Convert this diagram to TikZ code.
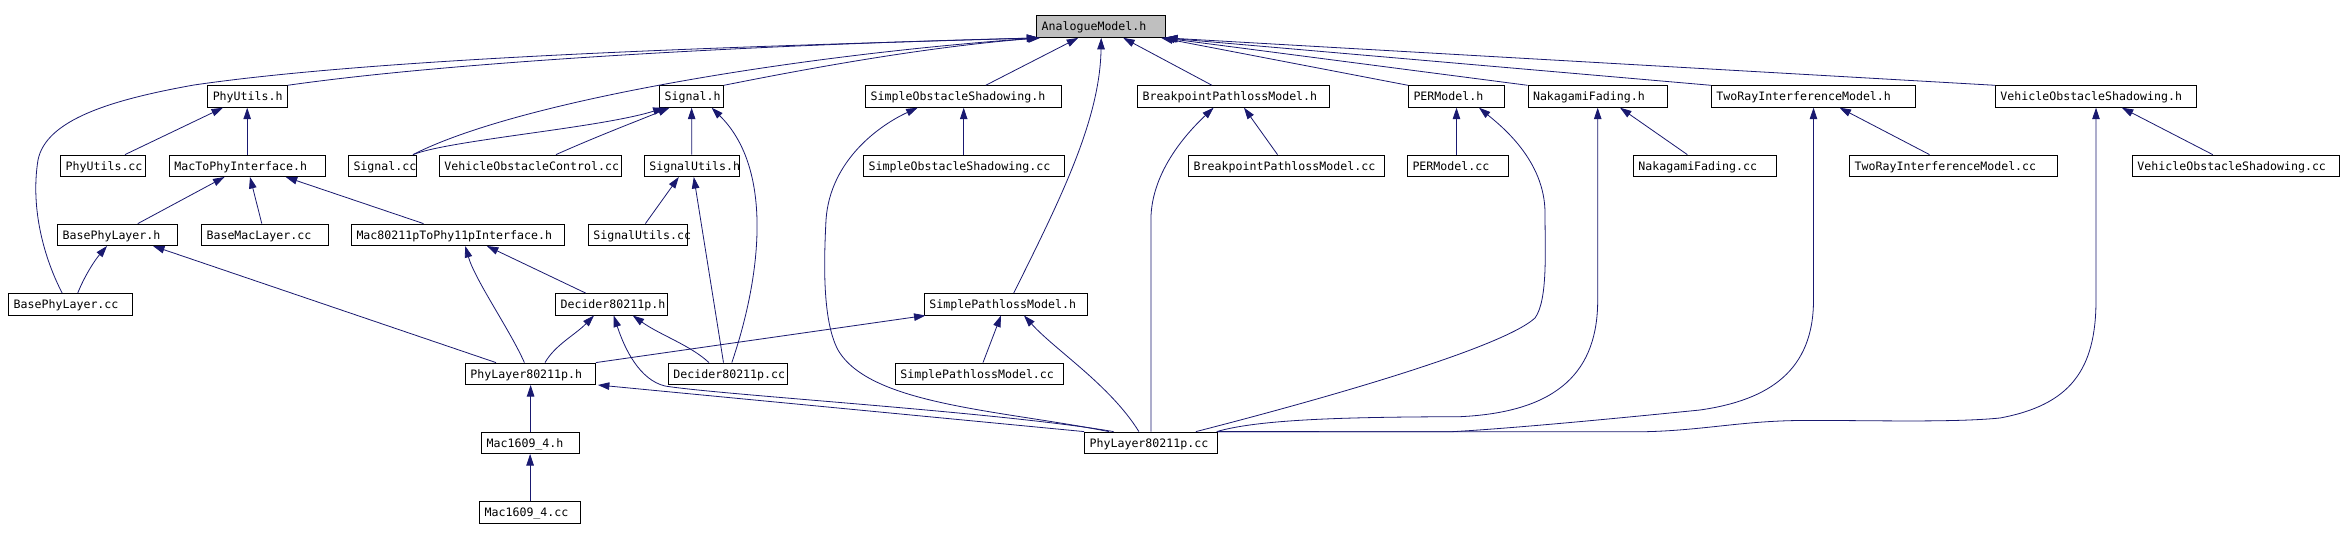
\documentclass[tikz,border=0pt]{standalone}
\usepackage{fontspec}
\newfontfamily\dxfont{DejaVu Sans Mono}
\usetikzlibrary{arrows.meta,calc}
\definecolor{edgeblue}{HTML}{191970}
\definecolor{rootgray}{HTML}{BFBFBF}
\newcommand{\dxbox}[2]{\makebox[#1][l]{\hspace{5pt}#2}}
\begin{document}
\begin{tikzpicture}[x=1pt,y=-1pt,
  file/.style={draw=black,line width=0.9pt,fill=white,minimum height=21.5pt,inner sep=0pt,
    text height=8.5pt,text depth=0pt,font=\dxfont\fontsize{11.6pt}{13pt}\selectfont},
  root/.style={file,fill=rootgray},
  dep/.style={draw=edgeblue,line width=0.8pt,-{Triangle[length=11.5pt,width=7.5pt,fill=edgeblue]}}]
\useasboundingbox[fill=white] (0,0) rectangle (2343,540);
% row 0
\node[root] (AM) at (1101.2,26.7) {\dxbox{129.1pt}{AnalogueModel.h}};
% row 1
\node[file] (PUh) at (247.5,96.5) {\dxbox{79.5pt}{PhyUtils.h}};
\node[file] (Sh) at (691.6,96.5) {\dxbox{63.8pt}{Signal.h}};
\node[file] (SOSh) at (963.7,96.5) {\dxbox{196pt}{SimpleObstacleShadowing.h}};
\node[file] (BPMh) at (1233.6,96.5) {\dxbox{192pt}{BreakpointPathlossModel.h}};
\node[file] (PERh) at (1456.5,96.5) {\dxbox{96pt}{PERModel.h}};
\node[file] (NFh) at (1597.7,96.5) {\dxbox{139.4pt}{NakagamiFading.h}};
\node[file] (TRh) at (1813.5,96.5) {\dxbox{204.3pt}{TwoRayInterferenceModel.h}};
\node[file] (VOSh) at (2096,96.5) {\dxbox{201.2pt}{VehicleObstacleShadowing.h}};
% row 2
\node[file] (PUcc) at (103,165.8) {\dxbox{84.7pt}{PhyUtils.cc}};
\node[file] (MTPh) at (247.2,165.8) {\dxbox{155.6pt}{MacToPhyInterface.h}};
\node[file] (Scc) at (382.4,165.8) {\dxbox{67.8pt}{Signal.cc}};
\node[file] (VOCcc) at (530.4,165.8) {\dxbox{182pt}{VehicleObstacleControl.cc}};
\node[file] (SUh) at (691.8,165.8) {\dxbox{95pt}{SignalUtils.h}};
\node[file] (SOScc) at (964.2,165.8) {\dxbox{201pt}{SimpleObstacleShadowing.cc}};
\node[file] (BPMcc) at (1286.7,165.8) {\dxbox{196pt}{BreakpointPathlossModel.cc}};
\node[file] (PERcc) at (1458,165.8) {\dxbox{101pt}{PERModel.cc}};
\node[file] (NFcc) at (1705,165.8) {\dxbox{143.3pt}{NakagamiFading.cc}};
\node[file] (TRcc) at (1953.5,165.8) {\dxbox{207.8pt}{TwoRayInterferenceModel.cc}};
\node[file] (VOScc) at (2236,165.8) {\dxbox{207.2pt}{VehicleObstacleShadowing.cc}};
% row 3
\node[file] (BPLh) at (117.3,234.8) {\dxbox{119.3pt}{BasePhyLayer.h}};
\node[file] (BMLcc) at (264.8,234.8) {\dxbox{126.5pt}{BaseMacLayer.cc}};
\node[file] (M11h) at (457.9,234.8) {\dxbox{212.8pt}{Mac80211pToPhy11pInterface.h}};
\node[file] (SUcc) at (637.8,234.8) {\dxbox{99pt}{SignalUtils.cc}};
% row 4
\node[file] (BPLcc) at (70.7,304.3) {\dxbox{124pt}{BasePhyLayer.cc}};
\node[file] (D11h) at (611.7,304.3) {\dxbox{112.3pt}{Decider80211p.h}};
\node[file] (SPMh) at (1006,304.3) {\dxbox{163.3pt}{SimplePathlossModel.h}};
% row 5
\node[file] (PL11h) at (530.4,373.8) {\dxbox{130pt}{PhyLayer80211p.h}};
\node[file] (D11cc) at (727.8,373.8) {\dxbox{118.8pt}{Decider80211p.cc}};
\node[file] (SPMcc) at (979.5,373.8) {\dxbox{168.4pt}{SimplePathlossModel.cc}};
% row 6
\node[file] (M16h) at (530.6,442.8) {\dxbox{98pt}{Mac1609\_4.h}};
\node[file] (PL11cc) at (1150.9,442.8) {\dxbox{132.6pt}{PhyLayer80211p.cc}};
% row 7
\node[file] (M16cc) at (530.1,512.3) {\dxbox{101pt}{Mac1609\_4.cc}};

% ---- edges to AnalogueModel.h
\draw[dep] (PUh.north east) .. controls (450,62) and (750,45) .. ([xshift=2pt]AM.south west);
\draw[dep] ([xshift=-8.5pt]BPLcc.north) .. controls (45,260) and (30,210) .. (38,160)
   .. controls (46,120) and (110,100) .. (194,85) .. controls (400,55) and (800,45) .. ([xshift=2pt]AM.south west);
\draw[dep] ([xshift=30.6pt]Scc.north) .. controls (520,100) and (800,55) .. ([xshift=3pt]AM.south west);
\draw[dep] (Sh.north east) .. controls (850,60) and (950,45) .. ([xshift=4pt]AM.south west);
\draw[dep] ([xshift=22pt]SOSh.north) -- ([xshift=-23pt]AM.south);
\draw[dep] ([xshift=7.7pt]SPMh.north) .. controls (1060,200) and (1100,120) .. (AM.south);
\draw[dep] ([xshift=-21.6pt]BPMh.north) -- ([xshift=22pt]AM.south);
\draw[dep] (PERh.north west) -- ([xshift=-5pt]AM.south east);
\draw[dep] (NFh.north west) -- ([xshift=-3pt]AM.south east);
\draw[dep] (TRh.north west) -- ([xshift=-1pt]AM.south east);
\draw[dep] (VOSh.north west) -- (AM.south east);
% ---- PhyUtils.h
\draw[dep] ([xshift=22pt]PUcc.north) -- ([xshift=-24.5pt]PUh.south);
\draw[dep] (MTPh.north) -- (MTPh.north |- PUh.south);
% ---- Signal.h
\draw[dep] ([xshift=30.6pt]Scc.north) .. controls (450,140) and (600,128) .. ([xshift=-27pt]Sh.south);
\draw[dep] ([xshift=25.6pt]VOCcc.north) .. controls (600,135) and (640,120) .. ([xshift=-22pt]Sh.south);
\draw[dep] (SUh.north) -- (Sh.south);
\draw[dep] ([xshift=4pt]D11cc.north) .. controls (760,280) and (775,170) .. ([xshift=20pt]Sh.south);
% ---- SignalUtils.h
\draw[dep] ([xshift=-4.3pt]D11cc.north) -- ([xshift=2pt]SUh.south);
\draw[dep] ([xshift=7.6pt]SUcc.north) -- ([xshift=-13pt]SUh.south);
% ---- MacToPhyInterface.h
\draw[dep] ([xshift=20.5pt]BPLh.north) -- ([xshift=-22.7pt]MTPh.south);
\draw[dep] ([xshift=-3pt]BMLcc.north) -- ([xshift=2.8pt]MTPh.south);
\draw[dep] ([xshift=-34.4pt]M11h.north) -- ([xshift=38.5pt]MTPh.south);
% ---- BasePhyLayer.h
\draw[dep] ([xshift=7pt]BPLcc.north) .. controls (85,275) and (95,260) .. ([xshift=-10.3pt]BPLh.south);
\draw[dep] ([xshift=-34.4pt]PL11h.north) -- ([xshift=35.7pt]BPLh.south);
% ---- Mac80211pToPhy11pInterface.h
\draw[dep] ([xshift=-6pt]PL11h.north) .. controls (510,330) and (475,280) .. ([xshift=7.4pt]M11h.south);
\draw[dep] ([xshift=-26pt]D11h.north) -- ([xshift=29pt]M11h.south);
% ---- Decider80211p.h
\draw[dep] ([xshift=14.6pt]PL11h.north) .. controls (555,345) and (575,335) .. ([xshift=-17.7pt]D11h.south);
\draw[dep] ([xshift=-18.8pt]D11cc.north) .. controls (690,345) and (660,335) .. ([xshift=21pt]D11h.south);
\draw[dep] ([xshift=-37.3pt]PL11cc.north) .. controls (1000,412) and (720,395) .. (665,386)
   .. controls (640,380) and (625,350) .. ([xshift=2pt]D11h.south);
% ---- SimplePathlossModel.h
\draw[dep] (PL11h.north east) -- ([xshift=1.6pt]SPMh.south west);
\draw[dep] ([xshift=3.5pt]SPMcc.north) -- ([xshift=-5pt]SPMh.south);
\draw[dep] ([xshift=-12pt]PL11cc.north) .. controls (1110,385) and (1055,350) .. ([xshift=18pt]SPMh.south);
% ---- PhyLayer80211p.h, Mac1609_4
\draw[dep] (PL11cc.north west) -- ([xshift=2pt]PL11h.south east);
\draw[dep] (M16h.north) -- (M16h.north |- PL11h.south);
\draw[dep] (M16cc.north) -- (M16cc.north |- M16h.south);
% ---- SimpleObstacleShadowing.h
\draw[dep] (SOScc.north -| SOSh.south) -- (SOSh.south);
\draw[dep] ([xshift=-42pt]PL11cc.north) .. controls (1000,410) and (870,405) .. (838,350)
   .. controls (822,320) and (824,260) .. (826,220) .. controls (830,160) and (880,125) .. ([xshift=-46pt]SOSh.south);
% ---- BreakpointPathlossModel.h
\draw[dep] ([xshift=-9.2pt]BPMcc.north) -- ([xshift=10.4pt]BPMh.south);
\draw[dep] (PL11cc.north) -- (1150.9,220) .. controls (1151,170) and (1190,130) .. ([xshift=-20pt]BPMh.south);
% ---- PERModel.h
\draw[dep] (PERcc.north -| PERh.south) -- (PERh.south);
\draw[dep] ([xshift=45pt]PL11cc.north) .. controls (1300,405) and (1500,350) .. (1535,318)
   .. controls (1548,300) and (1545,250) .. (1545,213) .. controls (1545,160) and (1500,125) .. ([xshift=22.5pt]PERh.south);
% ---- NakagamiFading.h
\draw[dep] ([xshift=-17.7pt]NFcc.north) -- ([xshift=22.3pt]NFh.south);
\draw[dep] ([xshift=-1pt]PL11cc.north east) .. controls (1260,419) and (1350,417) .. (1460,416.7)
   .. controls (1560,412) and (1597.7,370) .. (1597.7,300) -- (NFh.south);
% ---- TwoRayInterferenceModel.h
\draw[dep] ([xshift=-24pt]TRcc.north) -- ([xshift=26pt]TRh.south);
\draw[dep] (PL11cc.north east) -- (1450,431.8) .. controls (1520,428) and (1640,416) .. (1700,410)
   .. controls (1770,400) and (1813.5,370) .. (1813.5,300) -- (TRh.south);
% ---- VehicleObstacleShadowing.h
\draw[dep] ([xshift=-23.3pt]VOScc.north) -- ([xshift=25.8pt]VOSh.south);
\draw[dep] (PL11cc.north east) -- (1640,431.8) .. controls (1700,431) and (1740,421) .. (1800,420.5)
   .. controls (1860,420) and (1950,423) .. (2000,418) .. controls (2070,405) and (2096,370) .. (2096,300) -- (VOSh.south);
\end{tikzpicture}
\end{document}
